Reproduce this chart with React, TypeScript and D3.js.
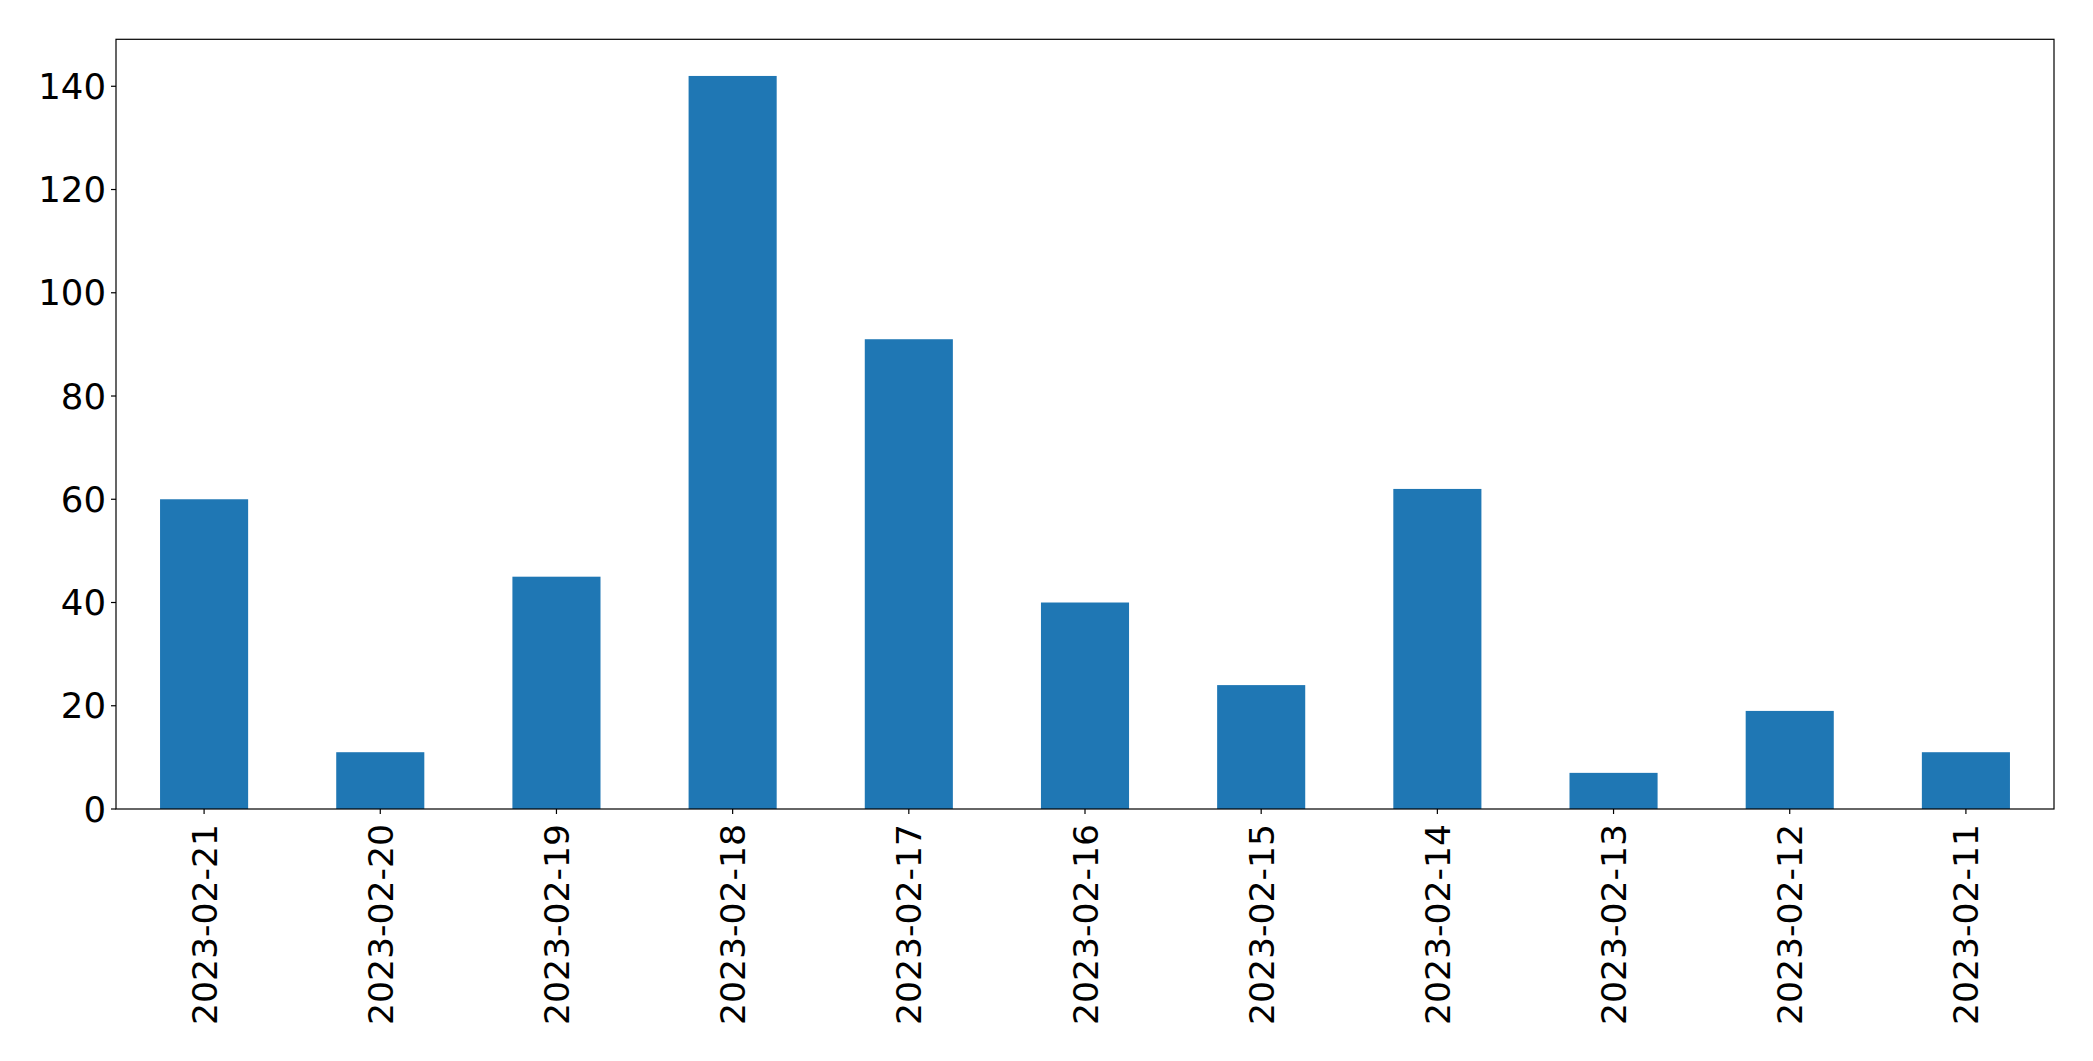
import React from "react";
import * as d3 from "d3";

const categories = ["2023-02-21", "2023-02-20", "2023-02-19", "2023-02-18", "2023-02-17", "2023-02-16", "2023-02-15", "2023-02-14", "2023-02-13", "2023-02-12", "2023-02-11"];
const values = [60, 11, 45, 142, 91, 40, 24, 62, 7, 19, 11];
const yTicks = [0, 20, 40, 60, 80, 100, 120, 140];

const W = 2093;
const H = 1061;
const M = { left: 116, right: 2054, top: 39.3, bottom: 809 };
const FONT = "'DejaVu Sans', sans-serif";

export default function App() {
  const x = d3.scaleBand<string>().domain(categories).range([M.left, M.right]).paddingInner(0.5).paddingOuter(0.25);
  const yMax = d3.max(values)! * 1.05;
  const y = d3.scaleLinear().domain([0, yMax]).range([M.bottom, M.top]);

  return (
    <svg width={W} height={H} style={{ position: "absolute", left: 0, top: 0, background: "#fff" }}>
      <rect x={0} y={0} width={W} height={H} fill="#fff" />
      {categories.map((c, i) => (
        <rect key={c} x={x(c)!} y={y(values[i])} width={x.bandwidth()} height={y(0) - y(values[i])} fill="#1f77b4" />
      ))}
      <rect x={M.left} y={M.top} width={M.right - M.left} height={M.bottom - M.top} fill="none" stroke="#000" strokeWidth={1.2} />
      {yTicks.map((t) => (
        <g key={t}>
          <line x1={M.left - 5} x2={M.left} y1={y(t)} y2={y(t)} stroke="#000" strokeWidth={1.2} />
          <text x={106} y={y(t)} textAnchor="end" dominantBaseline="central" fontFamily={FONT} fontSize={35.5} fill="#000">
            {t}
          </text>
        </g>
      ))}
      {categories.map((c) => {
        const cx = x(c)! + x.bandwidth() / 2;
        return (
          <g key={c}>
            <line x1={cx} x2={cx} y1={M.bottom} y2={M.bottom + 5} stroke="#000" strokeWidth={1.2} />
            <text transform={`translate(${cx},824) rotate(-90)`} y={12.5} textAnchor="end" fontFamily={FONT} fontSize={34.6} fill="#000">
              {c}
            </text>
          </g>
        );
      })}
    </svg>
  );
}
